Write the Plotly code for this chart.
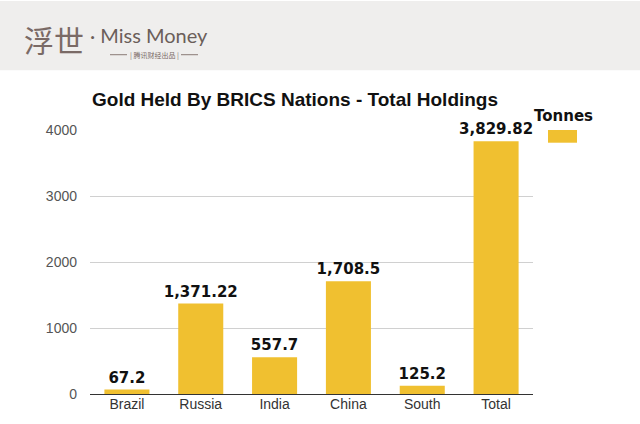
import plotly.graph_objects as go

categories = ["Brazil", "Russia", "India", "China", "South", "Total"]
holdings = [67.2, 1371.22, 557.7, 1708.5, 125.2, 3829.82]
value_labels = ["67.2", "1,371.22", "557.7", "1,708.5", "125.2", "3,829.82"]
y_ticks = [0, 1000, 2000, 3000, 4000]

BAR = "#f0c030"

fig = go.Figure()
fig.add_trace(go.Bar(
    x=categories, y=holdings, text=value_labels, texttemplate="<b>%{text}</b>",
    textposition="outside", constraintext="none",
    textfont=dict(family="DejaVu Sans", size=15, color="#111"),
    marker=dict(color=BAR, line=dict(width=0)), cliponaxis=False,
    name="Tonnes", showlegend=False,
))

fig.update_layout(
    width=640, height=424,
    margin=dict(l=90, r=107, t=130, b=24),
    paper_bgcolor="white", plot_bgcolor="white",
    bargap=0.39,
    font=dict(family="Arial, Liberation Sans", color="#444"),
    xaxis=dict(showgrid=False, ticks="", tickfont=dict(size=14, color="#333"),
               showline=False),
    yaxis=dict(range=[0, 4000], tickvals=y_ticks, showgrid=True, gridcolor="#d0d0d0",
               gridwidth=1, zeroline=True, zerolinecolor="#333", zerolinewidth=1,
               tickfont=dict(size=14, color="#555"), ticklabelstandoff=12),
    shapes=[
        dict(type="rect", xref="paper", yref="paper", x0=-90/443, x1=(640-90)/443,
             y0=(400-69)/270, y1=(400+2)/270, fillcolor="#efeeed", line=dict(width=0), layer="below"),
        dict(type="rect", xref="paper", yref="paper", x0=(548-90)/443, x1=(577-90)/443,
             y0=(400-143)/270, y1=(400-130)/270, fillcolor=BAR, line=dict(width=0)),
        dict(type="line", xref="paper", yref="paper", x0=(110-90)/443, x1=(127-90)/443,
             y0=(400-53)/270, y1=(400-53)/270, line=dict(color="#8a7a75", width=1)),
        dict(type="line", xref="paper", yref="paper", x0=(181-90)/443, x1=(198-90)/443,
             y0=(400-53)/270, y1=(400-53)/270, line=dict(color="#8a7a75", width=1)),
    ],
    annotations=[
        dict(text="<b>Gold Held By BRICS Nations - Total Holdings</b>", xref="paper", yref="paper",
             x=(295-90)/443, y=(400-99)/270, xanchor="center", yanchor="middle", showarrow=False,
             font=dict(family="Arial, Liberation Sans", size=19, color="#111")),
        dict(text="<b>Tonnes</b>", xref="paper", yref="paper",
             x=(563-90)/443, y=(400-116)/270, xanchor="center", yanchor="middle", showarrow=False,
             font=dict(family="DejaVu Sans", size=15, color="#111")),
        dict(text="浮世", xref="paper", yref="paper",
             x=(22-90)/443, y=(400-37)/270, xanchor="left", yanchor="middle", showarrow=False,
             font=dict(family="Noto Sans CJK SC", size=30, color="#7a6a66")),
        dict(text="· Miss Money", xref="paper", yref="paper",
             x=(88-90)/443, y=(400-33)/270, xanchor="left", yanchor="middle", showarrow=False,
             font=dict(family="Lato, Open Sans", size=20, color="#6b5e5a")),
        dict(text="| 腾讯财经出品 |", xref="paper", yref="paper",
             x=(154-90)/443, y=(400-53)/270, xanchor="center", yanchor="middle", showarrow=False,
             font=dict(family="Noto Sans CJK SC", size=7, color="#7a6a66")),
    ],
)

fig.write_html("out.html")
